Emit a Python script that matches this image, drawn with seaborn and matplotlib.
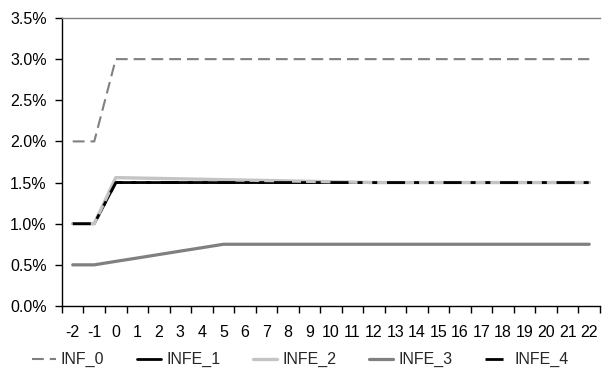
import matplotlib
matplotlib.use("Agg")
import matplotlib.pyplot as plt
import seaborn as sns
import pandas as pd
from matplotlib.ticker import PercentFormatter, FixedLocator

# Chart data (percent)
periods = [-2, -1, 0, 1, 2, 3, 4, 5, 6, 7, 8, 9, 10, 11, 12, 13, 14, 15, 16, 17, 18, 19, 20, 21, 22]
inf_0 = [2.0, 2.0, 3.0, 3.0, 3.0, 3.0, 3.0, 3.0, 3.0, 3.0, 3.0, 3.0, 3.0, 3.0, 3.0, 3.0, 3.0, 3.0, 3.0, 3.0, 3.0, 3.0, 3.0, 3.0, 3.0]
infe_1 = [1.0, 1.0, 1.5, 1.5, 1.5, 1.5, 1.5, 1.5, 1.5, 1.5, 1.5, 1.5, 1.5, 1.5, 1.5, 1.5, 1.5, 1.5, 1.5, 1.5, 1.5, 1.5, 1.5, 1.5, 1.5]
infe_2 = [1.0, 1.0, 1.56, 1.555, 1.55, 1.545, 1.54, 1.535, 1.53, 1.525, 1.52, 1.515, 1.51, 1.505, 1.5, 1.5, 1.5, 1.5, 1.5, 1.5, 1.5, 1.5, 1.5, 1.5, 1.5]
infe_3 = [0.5, 0.5, 0.542, 0.583, 0.625, 0.667, 0.708, 0.75, 0.75, 0.75, 0.75, 0.75, 0.75, 0.75, 0.75, 0.75, 0.75, 0.75, 0.75, 0.75, 0.75, 0.75, 0.75, 0.75, 0.75]
infe_4 = [1.0, 1.0, 1.5, 1.5, 1.5, 1.5, 1.5, 1.5, 1.5, 1.5, 1.5, 1.5, 1.5, 1.5, 1.5, 1.5, 1.5, 1.5, 1.5, 1.5, 1.5, 1.5, 1.5, 1.5, 1.5]

series_names = ["INF_0", "INFE_1", "INFE_2", "INFE_3", "INFE_4"]
series_values = [inf_0, infe_1, infe_2, infe_3, infe_4]

# line styles for each series
styles = {
    "INF_0": dict(color="#808080", lw=1.5, dashes=(8.5, 4.3)),
    "INFE_1": dict(color="black", lw=2.0, dashes=None),
    "INFE_2": dict(color="#c4c4c4", lw=2.4, dashes=None),
    "INFE_3": dict(color="#808080", lw=2.3, dashes=None),
    "INFE_4": dict(color="black", lw=2.0, dashes=(13, 6.5, 3.6, 7, 3.6, 7)),
}

sns.set_style("white")
plt.rcParams["font.family"] = ["Liberation Sans Narrow", "Liberation Sans", "DejaVu Sans"]
plt.rcParams["lines.scale_dashes"] = False

# category positions for the x axis
pos = list(range(len(periods)))
rows = []
for name, vals in zip(series_names, series_values):
    for p, v in zip(pos, vals):
        rows.append({"pos": p, "value": v, "series": name})
df = pd.DataFrame(rows)

fig = plt.figure(figsize=(6.04, 3.81), dpi=100)
ax = fig.add_axes([0.1026, 0.1969, 0.8908, 0.7559])

for name in series_names:
    st = styles[name]
    sub = df[df["series"] == name]
    sns.lineplot(data=sub, x="pos", y="value", ax=ax, color=st["color"],
                 linewidth=st["lw"], label=name, legend=False)
    line = ax.lines[-1]
    if st["dashes"] is not None:
        line.set_dashes(st["dashes"])

ax.set_xlim(-0.5, len(periods) - 0.5)
ax.set_ylim(0, 3.5)
ax.set_yticks([0, 0.5, 1.0, 1.5, 2.0, 2.5, 3.0, 3.5])
ax.yaxis.set_major_formatter(PercentFormatter(xmax=100, decimals=1))

ax.set_xticks(pos)
ax.set_xticklabels([str(p) for p in periods])
ax.xaxis.set_minor_locator(FixedLocator([p - 0.5 for p in pos] + [len(pos) - 0.5]))
ax.tick_params(axis="x", which="major", length=0, pad=14, labelsize=11.5, colors="black")
ax.tick_params(axis="x", which="minor", length=5, width=1, direction="out", bottom=True, color="black")
ax.tick_params(axis="y", length=5, width=1, direction="out", left=True, labelsize=11.5, colors="black", pad=6)
ax.set_xlabel("")
ax.set_ylabel("")

for side in ["left", "bottom"]:
    ax.spines[side].set_color("black")
    ax.spines[side].set_linewidth(1.0)
ax.spines["top"].set_color("#808080")
ax.spines["top"].set_linewidth(1.0)
ax.spines["right"].set_visible(False)

handles = ax.lines[-5:]
fig.legend(handles, series_names, loc="center", bbox_to_anchor=(0.497, 0.056), ncol=5,
           frameon=False, fontsize=11.5, handlelength=1.5, handletextpad=0.31, columnspacing=2.07)

fig.savefig("out.png", dpi=100)
